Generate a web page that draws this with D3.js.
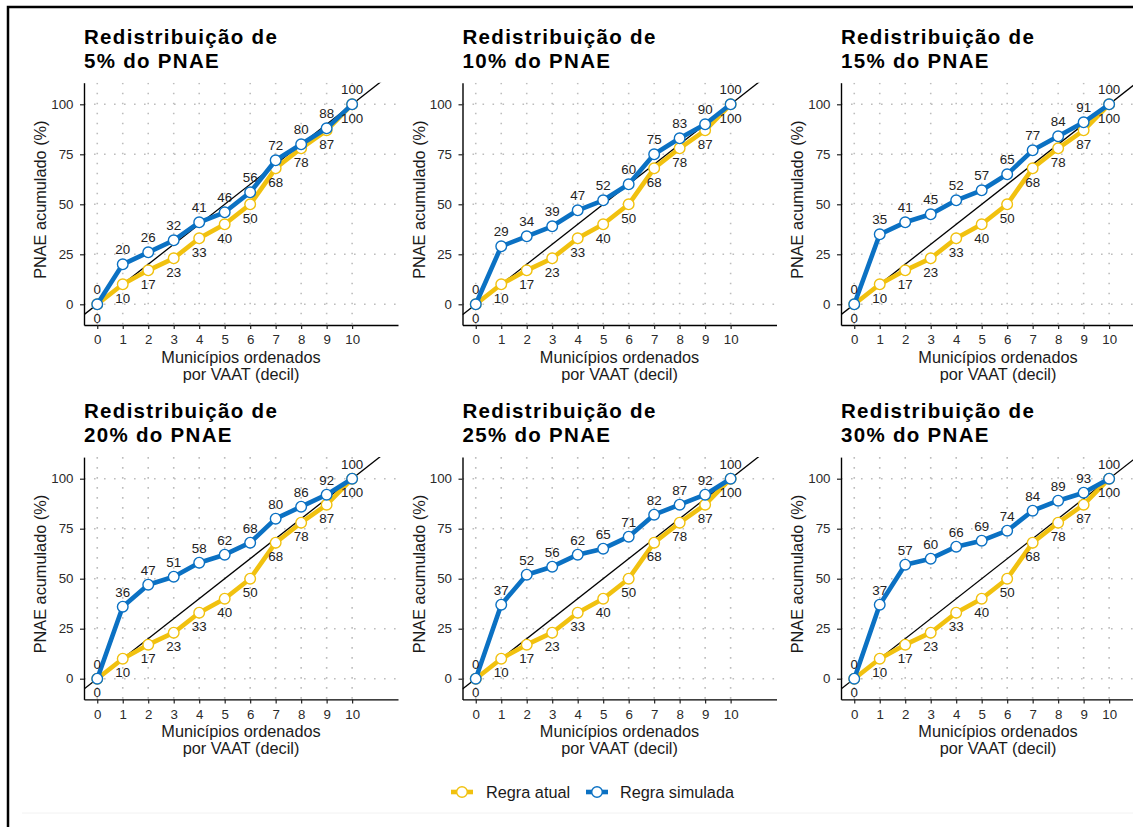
<!DOCTYPE html>
<html><head><meta charset="utf-8">
<script src="https://cdn.jsdelivr.net/npm/d3@7"></script>
<style>
body{margin:0;background:#fff;}
svg{display:block;font-family:"Liberation Sans",Arial,Helvetica,sans-serif;}
</style>
</head><body>
<svg id="chart" width="1133" height="827"></svg>
<script>
// ---- data ----
const shares = ["5%", "10%", "15%", "20%", "25%", "30%"];
const deciles = [0, 1, 2, 3, 4, 5, 6, 7, 8, 9, 10];
const regraAtual = [0, 10, 17, 23, 33, 40, 50, 68, 78, 87, 100];
const sim5  = [0, 20, 26, 32, 41, 46, 56, 72, 80, 88, 100];
const sim10 = [0, 29, 34, 39, 47, 52, 60, 75, 83, 90, 100];
const sim15 = [0, 35, 41, 45, 52, 57, 65, 77, 84, 91, 100];
const sim20 = [0, 36, 47, 51, 58, 62, 68, 80, 86, 92, 100];
const sim25 = [0, 37, 52, 56, 62, 65, 71, 82, 87, 92, 100];
const sim30 = [0, 37, 57, 60, 66, 69, 74, 84, 89, 93, 100];
const simulada = [sim5, sim10, sim15, sim20, sim25, sim30];
const yTicks = [0, 25, 50, 75, 100];
const seriesNames = ["Regra atual", "Regra simulada"];

// ---- style ----
const YEL = "#f1c10f", BLU = "#0b71c3";
const colLeft = [84, 462.5, 841], rowTop = [82.7, 457.1];
const W = 314, H = 242.3;

const svg = d3.select("#chart");
const x = d3.scaleLinear().domain([-0.52, 11.8]).range([0, W]);
const y = d3.scaleLinear().domain([-10.35, 110.8]).range([H, 0]);

// frame
svg.append("path").attr("d", "M8,827 L8,7 L1133,7").attr("fill", "none")
  .attr("stroke", "#000").attr("stroke-width", 2.5);
svg.append("line").attr("x1", 22).attr("x2", 1133).attr("y1", 813).attr("y2", 813)
  .attr("stroke", "#f2f2f2").attr("stroke-width", 1);

const line = d3.line().x((d, i) => x(deciles[i])).y(d => y(d));

shares.forEach((sh, pi) => {
  const g = svg.append("g")
    .attr("transform", `translate(${colLeft[pi % 3]},${rowTop[Math.floor(pi / 3)]})`);
  const cid = "clip" + pi;
  g.append("clipPath").attr("id", cid).append("rect")
    .attr("x", 0).attr("y", 0).attr("width", W).attr("height", H);

  // title
  const t = g.append("text").attr("font-weight", "bold").attr("font-size", 20.5)
    .attr("letter-spacing", 1.3).attr("fill", "#000");
  t.append("tspan").attr("x", 0).attr("y", -39).text("Redistribuição de");
  t.append("tspan").attr("x", 0).attr("y", -15).text(sh + " do PNAE");

  // grid
  const grid = g.append("g").attr("clip-path", `url(#${cid})`)
    .attr("stroke", "#bdbdbd").attr("stroke-width", 1.6).attr("stroke-dasharray", "1.6,8.4");
  grid.selectAll(".vg").data(deciles).join("line")
    .attr("x1", d => x(d)).attr("x2", d => x(d)).attr("y1", 0).attr("y2", H);
  grid.selectAll(".hg").data(yTicks).join("line")
    .attr("y1", d => y(d)).attr("y2", d => y(d)).attr("x1", 0).attr("x2", W);

  // diagonal
  const xd = x.domain();
  g.append("line").attr("clip-path", `url(#${cid})`)
    .attr("x1", x(xd[0])).attr("y1", y(xd[0] * 10))
    .attr("x2", x(xd[1])).attr("y2", y(xd[1] * 10))
    .attr("stroke", "#000").attr("stroke-width", 1.3);

  // axes
  const ax = g.append("g").attr("transform", `translate(0,${H})`)
    .call(d3.axisBottom(x).tickValues(deciles).tickSize(4).tickSizeOuter(0).tickPadding(6));
  const ay = g.append("g")
    .call(d3.axisLeft(y).tickValues(yTicks).tickSize(4).tickSizeOuter(0).tickPadding(6.5));
  [ax, ay].forEach(a => {
    a.select(".domain").attr("stroke", "#000").attr("stroke-width", 1.4);
    a.selectAll(".tick line").attr("stroke", "#222").attr("stroke-width", 1.2);
    a.selectAll(".tick text").attr("font-size", 13.3).attr("fill", "#2a2a2a")
      .attr("font-family", "'Liberation Sans',Arial,sans-serif");
  });

  // axis titles
  g.append("text").attr("transform", `translate(-38,117) rotate(-90)`)
    .attr("text-anchor", "middle").attr("font-size", 16.3).attr("fill", "#1a1a1a")
    .text("PNAE acumulado (%)");
  const xt = g.append("text").attr("text-anchor", "middle").attr("font-size", 16.3).attr("fill", "#1a1a1a");
  xt.append("tspan").attr("x", W / 2).attr("y", H + 38).text("Municípios ordenados");
  xt.append("tspan").attr("x", W / 2).attr("y", H + 55).text("por VAAT (decil)");

  // series
  const sets = [
    { vals: regraAtual, col: YEL, above: false },
    { vals: simulada[pi], col: BLU, above: true }
  ];
  sets.forEach(s => {
    g.append("path").datum(s.vals).attr("d", line).attr("fill", "none")
      .attr("stroke", s.col).attr("stroke-width", 4.6).attr("stroke-linejoin", "round");
    g.selectAll(null).data(s.vals).join("circle")
      .attr("cx", (d, i) => x(deciles[i])).attr("cy", d => y(d)).attr("r", 5.3)
      .attr("fill", "#fff").attr("stroke", s.col).attr("stroke-width", 1.4);
  });
  sets.forEach(s => {
    g.selectAll(null).data(s.vals).join("text")
      .attr("x", (d, i) => x(deciles[i]))
      .attr("y", d => s.above ? y(d) - 10 : y(d) + 18.5)
      .attr("text-anchor", "middle").attr("font-size", 13.3).attr("fill", "#222")
      .text(d => d);
  });
});

// legend
const lg = svg.append("g");
const keys = [
  { name: seriesNames[0], col: YEL, x0: 451, tx: 486 },
  { name: seriesNames[1], col: BLU, x0: 586, tx: 620 }
];
keys.forEach(k => {
  lg.append("line").attr("x1", k.x0).attr("x2", k.x0 + 22).attr("y1", 792).attr("y2", 792)
    .attr("stroke", k.col).attr("stroke-width", 4.6);
  lg.append("circle").attr("cx", k.x0 + 11).attr("cy", 792).attr("r", 5.3)
    .attr("fill", "#fff").attr("stroke", k.col).attr("stroke-width", 1.4);
  lg.append("text").attr("x", k.tx).attr("y", 797.5).attr("font-size", 16.3)
    .attr("fill", "#1a1a1a").text(k.name);
});
</script>
</body></html>
